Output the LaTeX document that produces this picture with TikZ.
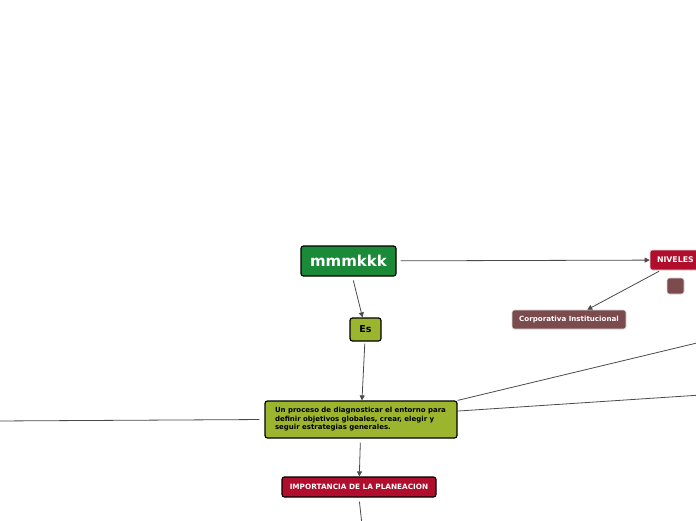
\documentclass[tikz,border=0pt]{standalone}
\usepackage{fontspec}
\setmainfont{DejaVu Sans}
\usetikzlibrary{arrows.meta}
\definecolor{topicgreen}{HTML}{1A8A38}
\definecolor{olivegreen}{HTML}{9CB52E}
\definecolor{crimson}{HTML}{B00E2C}
\definecolor{brownish}{HTML}{7B4B4E}
\definecolor{linkgray}{HTML}{4A4A4A}

\begin{document}
\begin{tikzpicture}[x=1pt,y=-1pt,
  box/.style={draw=black, line width=1.2pt, rounded corners=2.5pt, inner sep=0pt},
  soft/.style={draw=white!85!black, line width=0.6pt, rounded corners=2.5pt, inner sep=0pt},
  link/.style={draw=linkgray, line width=0.8pt},
  arrow/.style={link, -{Triangle[length=5pt,width=5pt]}}]
\useasboundingbox (0,0) rectangle (696,520);
\fill[white] (0,0) rectangle (696,520);

% Nodes
\node[box, fill=topicgreen, text=white, minimum width=95pt, minimum height=30pt,
  font=\bfseries\fontsize{15}{18}\selectfont] (main) at (348.5,261) {mmmkkk};
\node[box, fill=olivegreen, minimum width=31pt, minimum height=23pt,
  font=\bfseries\fontsize{9.5}{11}\selectfont] (es) at (365.5,329.5) {Es};
\node[box, fill=olivegreen, minimum width=192pt, minimum height=37pt, text width=172pt,
  align=left, font=\bfseries\fontsize{7}{8.5}\selectfont] (def) at (361,419.5)
  {Un proceso de diagnosticar el entorno para definir objetivos globales, crear, elegir y seguir estrategias generales.};
\node[box, fill=crimson, text=white, minimum width=154pt, minimum height=20pt,
  font=\bfseries\fontsize{7.3}{8}\selectfont] (imp) at (359,487) {IMPORTANCIA DE LA PLANEACION};
\node[soft, fill=crimson, text=white, minimum width=60pt, minimum height=20pt,
  font=\bfseries\fontsize{7.8}{9}\selectfont, text width=46pt, align=left] (niv) at (680,260) {NIVELES};
\node[soft, fill=brownish, minimum width=17pt, minimum height=16pt] (blank) at (675.5,286) {};
\node[soft, fill=brownish, text=white, minimum width=114pt, minimum height=19pt,
  font=\bfseries\fontsize{7.1}{8}\selectfont] (corp) at (569,319.5) {Corporativa Institucional};

% Free ends
\coordinate (outA) at (716,338.4);
\coordinate (outB) at (716,394);
\coordinate (outC) at (-5,421);
\coordinate (outD) at (362,525);

% Connectors
\draw[arrow, shorten <=4pt] (main) -- (niv);
\draw[arrow, shorten <=4pt] (main) -- (es);
\draw[arrow, shorten <=2pt] (niv) -- (corp);
\draw[arrow, shorten <=2pt] (es) -- (def);
\draw[arrow, shorten <=4pt] (def) -- (imp);
\draw[link] (def.north east) -- (outA);
\draw[link] (def.5) -- (outB);
\draw[link, shorten <=5pt] (def.west) -- (outC);
\draw[link, shorten <=4pt] (imp.south) -- (outD);
\end{tikzpicture}
\end{document}
